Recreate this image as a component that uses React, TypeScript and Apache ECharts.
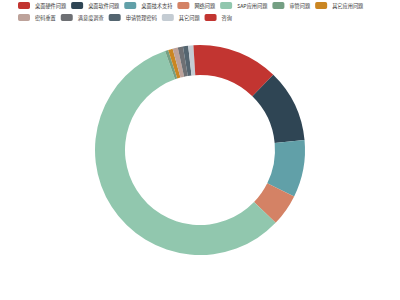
import React, { useEffect, useRef } from "react";
import * as echarts from "echarts";

const categories = [
  "桌面硬件问题", "桌面软件问题", "桌面技术支持", "网络问题", "SAP应用问题", "审管问题",
  "其它应用问题", "密码重置", "满意度调查", "申请管理密码", "其它问题", "咨询",
];
const values = [123, 112, 88, 49, 574, 5, 7, 8, 8, 8, 8, 10];
const colors = [
  "#c23531", "#2f4554", "#61a0a8", "#d48265", "#91c7ae", "#749f83",
  "#ca8622", "#bda29a", "#6e7074", "#546570", "#c4ccd3", "#c23531",
];

export default function App() {
  const ref = useRef<HTMLDivElement>(null);
  useEffect(() => {
    const chart = echarts.init(ref.current!, undefined, { renderer: "svg" });
    chart.setOption({
      animation: false,
      color: colors,
      legend: {
        left: 18,
        top: 2,
        width: 372,
        itemWidth: 12,
        itemHeight: 7,
        itemGap: 5,
        padding: 0,
        textStyle: {
          fontSize: 5.2,
          color: "#333",
          fontFamily: "Noto Sans CJK SC",
          padding: [0, 6, 0, 0],
        },
        data: categories,
      },
      series: [
        {
          type: "pie",
          center: ["50%", "50%"],
          radius: ["50%", "70%"],
          startAngle: 90,
          label: { show: false },
          labelLine: { show: false },
          data: categories.map((c, i) => ({ name: c, value: values[i] })),
        },
      ],
    });
    return () => chart.dispose();
  }, []);
  return <div ref={ref} style={{ width: 400, height: 300, position: "absolute", left: 0, top: 0 }} />;
}
